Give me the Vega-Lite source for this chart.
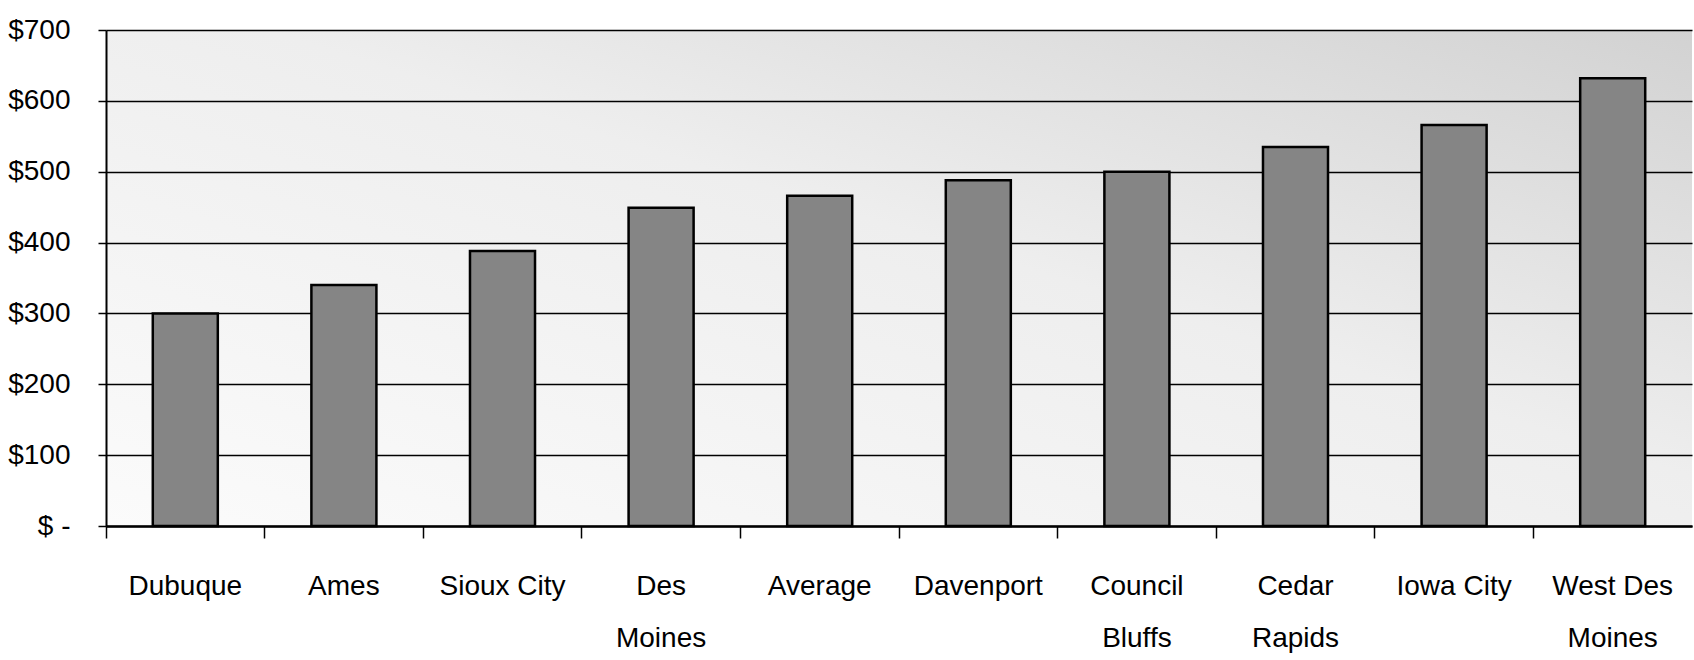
{
  "$schema": "https://vega.github.io/schema/vega-lite/v6.json",
  "autosize": "none",
  "width": 1586,
  "height": 496,
  "padding": {"left": 106, "top": 30, "right": 2, "bottom": 134},
  "background": "white",
  "data": {"values": [
    {"city": "Dubuque", "value": 300},
    {"city": "Ames", "value": 340},
    {"city": "Sioux City", "value": 388},
    {"city": "Des|Moines", "value": 449},
    {"city": "Average", "value": 466},
    {"city": "Davenport", "value": 488},
    {"city": "Council|Bluffs", "value": 500},
    {"city": "Cedar|Rapids", "value": 535},
    {"city": "Iowa City", "value": 566},
    {"city": "West Des|Moines", "value": 632}
  ]},
  "config": {
    "view": {"stroke": null, "fill": {"gradient": "linear", "x1": 0, "y1": 1, "x2": 1, "y2": 0, "stops": [{"offset": 0, "color": "#fbfbfb"}, {"offset": 0.55, "color": "#eeeeee"}, {"offset": 1, "color": "#d2d2d2"}]}},
    "axis": {"labelFont": "Liberation Sans", "labelColor": "#000", "labelFontSize": 28, "domainColor": "#000", "tickColor": "#000", "gridColor": "#000"}
  },
  "mark": {"type": "bar", "fill": "#858585", "stroke": "#000", "strokeWidth": 2.5},
  "encoding": {
    "x": {
      "field": "city", "type": "nominal", "sort": null,
      "scale": {"paddingInner": 0.59, "paddingOuter": 0.295},
      "axis": {"title": null, "labelAngle": 0, "labelExpr": "split(datum.label, '|')", "labelBaseline": "top", "labelLineHeight": 52, "labelPadding": 34, "tickSize": 12, "bandPosition": -0.7195, "domainWidth": 2.5, "tickWidth": 1.5, "grid": false}
    },
    "y": {
      "field": "value", "type": "quantitative",
      "scale": {"domain": [0, 700], "nice": false},
      "axis": {"title": null, "values": [0, 100, 200, 300, 400, 500, 600, 700], "labelExpr": "datum.value == 0 ? '$ -' : '$' + datum.value", "grid": true, "gridWidth": 1.5, "tickSize": 8, "tickWidth": 1.5, "labelPadding": 28, "domainWidth": 2}
    }
  }
}
